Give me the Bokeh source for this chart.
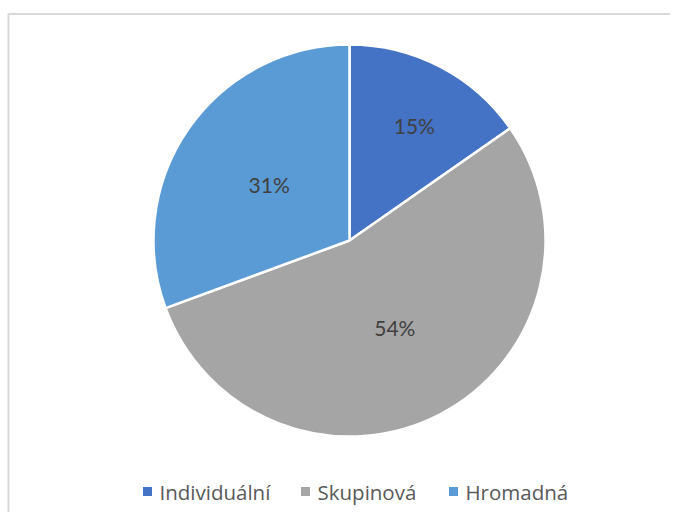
import math
from bokeh.plotting import figure
from bokeh.models import Range1d, ColumnDataSource
from bokeh.core.properties import value
from bokeh.embed import file_html
from bokeh.resources import INLINE

categories = ["Individuální", "Skupinová", "Hromadná"]
shares = [15.3, 54.1, 30.6]
labels = ["15%", "54%", "31%"]
colors = ["#4472C4", "#A5A5A5", "#5B9BD5"]

W, H = 670, 512
p = figure(width=W, height=H, output_backend="svg", toolbar_location=None,
           x_range=Range1d(0, W), y_range=Range1d(0, H), min_border=0)
p.axis.visible = False
p.grid.visible = False
p.outline_line_color = None
p.background_fill_color = "white"

# chart area border (top and left visible in the reference)
p.line([8, 8, W], [0, H - 13.5, H - 13.5], line_color="#d9d9d9", line_width=2)

cx, cy, r = 349, 272, 196
total = sum(shares)
starts, ends, mids = [], [], []
a = math.pi / 2
for s in shares:
    da = 2 * math.pi * s / total
    starts.append(a)
    ends.append(a - da)
    mids.append(a - da / 2)
    a -= da

src = ColumnDataSource(dict(start=starts, end=ends, color=colors))
p.wedge(x=cx, y=cy, radius=r, start_angle="start", end_angle="end",
        direction="clock", fill_color="color", line_color="white",
        line_width=2.5, source=src)

lx, ly = [], []
for s, m in zip(shares, mids):
    f = 0.66 if s / total < 0.2 else 0.5
    lx.append(cx + f * r * math.cos(m) + (5 if s / total < 0.2 else 0))
    ly.append(cy + f * r * math.sin(m))
p.text(x=lx, y=ly, text=labels, text_align="center", text_baseline="middle",
       text_font=value("Lato"), text_font_size="21px", text_color="#404040")

# legend
leg_x = [147, 305, 453]
leg_y = 21
p.scatter(x=leg_x, y=[leg_y] * 3, marker="square", size=9,
          fill_color=colors, line_color=None)
p.text(x=[x + 12 for x in leg_x], y=[leg_y] * 3, text=categories,
       text_align="left", text_baseline="middle",
       text_font=value("Open Sans"), text_font_size="20.5px", text_color="#595959")

open("out.html", "w").write(file_html(p, INLINE))
